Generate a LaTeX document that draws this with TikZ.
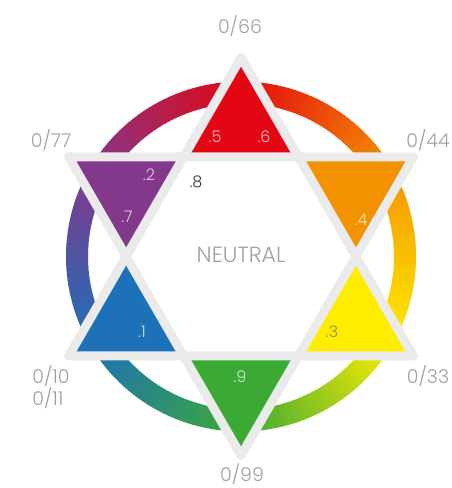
\documentclass[tikz,border=0pt]{standalone}
\usepackage{fontspec}
\setmainfont{Poppins}[UprightFont=* Light]
\usetikzlibrary{calc}

\definecolor{cred}{RGB}{227,6,19}
\definecolor{corange}{RGB}{243,146,0}
\definecolor{cyellow}{RGB}{255,237,0}
\definecolor{cgreen}{RGB}{58,170,53}
\definecolor{cblue}{RGB}{29,113,184}
\definecolor{cpurple}{RGB}{131,56,140}
\definecolor{starline}{RGB}{235,235,235}
\definecolor{labelgray}{RGB}{160,160,160}

\tikzset{
    outer label/.style={labelgray, font=\fontsize{19}{22}\selectfont, inner sep=0pt, align=left},
    point label/.style={white, opacity=0.75, font=\fontsize{16}{18}\selectfont, inner sep=0pt},
    star edge/.style={starline, line width=9pt, line join=round}
}

\begin{document}
\begin{tikzpicture}[x=1pt, y=1pt]
    \useasboundingbox (0,0) rectangle (452,488);

    \begin{scope}[shift={(241,231.5)}]
        % Colour ring
        \foreach \k/\ca/\cb in {0/cred/corange, 1/corange/cyellow, 2/cyellow/cgreen, 3/cgreen/cblue, 4/cblue/cpurple, 5/cpurple/cred} {
            \foreach \i in {0,...,29} {
                \pgfmathsetmacro{\a}{90-60*\k-2*\i}
                \pgfmathsetmacro{\b}{\a-2.3}
                \pgfmathtruncatemacro{\p}{100-(\i+0.5)*100/30}
                \fill[\ca!\p!\cb] (\a:175) arc[start angle=\a, end angle=\b, radius=175]
                    -- (\b:153) arc[start angle=\b, end angle=\a, radius=153] -- cycle;
            }
        }

        % Star points
        \foreach \t/\c in {90/cred, 30/corange, -30/cyellow, -90/cgreen, -150/cblue, 150/cpurple} {
            \fill[\c] (\t:199) -- (\t-30:114.9) -- (\t+30:114.9) -- cycle;
        }

        % Two triangles of the star
        \draw[star edge] (90:199) -- (210:199) -- (330:199) -- cycle;
        \draw[star edge] (270:199) -- (30:199) -- (150:199) -- cycle;
    \end{scope}

    % Outer labels
    \node[outer label] (l66) at (240,462) {0/66};
    \node[outer label] (l77) at (51,348) {0/77};
    \node[outer label] (l44) at (428,348) {0/44};
    \node[outer label] (l10) at (51,101) {0/10\\0/11};
    \node[outer label] (l33) at (428,112) {0/33};
    \node[outer label] (l99) at (242,14) {0/99};

    % Centre
    \node[labelgray, font=\fontsize{22}{26}\selectfont, inner sep=0pt] (neutral) at (241,233) {NEUTRAL};
    \node[black!80, font=\fontsize{16}{18}\selectfont, inner sep=0pt] (p8) at (196,306) {.8};

    % Numbers in the points
    \node[point label] (p5) at (215,351) {.5};
    \node[point label] (p6) at (264,351) {.6};
    \node[point label] (p2) at (149,313) {.2};
    \node[point label] (p7) at (127,271) {.7};
    \node[point label] (p4) at (361,268) {.4};
    \node[point label] (p1) at (142,156) {.1};
    \node[point label] (p9) at (240,111) {.9};
    \node[point label, text=black!55, opacity=0.8] (p3) at (332,156) {.3};
\end{tikzpicture}
\end{document}
